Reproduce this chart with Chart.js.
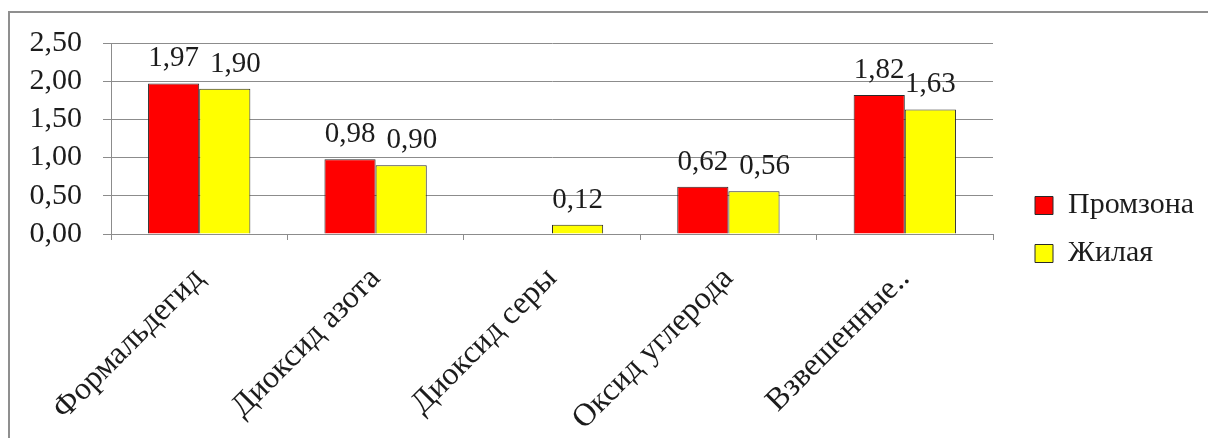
<!DOCTYPE html>
<html><head><meta charset="utf-8">
<script src="https://cdn.jsdelivr.net/npm/chart.js@4.4.1/dist/chart.umd.min.js"></script>
<style>html,body{margin:0;padding:0;background:#fff;overflow:hidden}canvas{display:block}</style>
</head><body>
<canvas id="c" width="1208" height="438"></canvas>
<script>
const categories = ['Формальдегид', 'Диоксид азота', 'Диоксид серы', 'Оксид углерода', 'Взвешенные..'];
const seriesNames = ['Промзона', 'Жилая'];
const promzona = [1.97, 0.98, null, 0.62, 1.82];
const zhilaya = [1.90, 0.90, 0.12, 0.56, 1.63];
const yTickValues = [0, 0.5, 1, 1.5, 2, 2.5];

const FONT = '"Liberation Serif", "DejaVu Serif", serif';
const TEXT = '#1c1c1c';
const GRID = '#8c8c8c';
const fmt = v => v.toFixed(2).replace('.', ',');

const decor = {
  id: 'decor',
  afterInit(chart) {
    const lg = chart.legend;
    const fit0 = lg.fit.bind(lg);
    lg.fit = function () { fit0(); this.width = 215; };
    const draw0 = lg.draw.bind(lg);
    lg.draw = function () {
      this.left += 24; this.top -= 11; this.bottom -= 11;
      draw0();
      this.left -= 24; this.top += 11; this.bottom += 11;
    };
  },
  beforeDraw(chart) {
    const ctx = chart.ctx;
    ctx.save();
    ctx.fillStyle = '#fff';
    ctx.fillRect(0, 0, chart.width, chart.height);
    ctx.strokeStyle = '#8f8f8f';
    ctx.lineWidth = 2;
    ctx.beginPath();
    ctx.moveTo(9, chart.height);
    ctx.lineTo(9, 12);
    ctx.lineTo(chart.width, 12);
    ctx.stroke();
    ctx.restore();
  },
  afterDatasetsDraw(chart) {
    const ctx = chart.ctx;
    ctx.save();
    ctx.font = '29px ' + FONT;
    ctx.fillStyle = TEXT;
    ctx.textAlign = 'center';
    ctx.textBaseline = 'alphabetic';
    const m0 = chart.getDatasetMeta(0), m1 = chart.getDatasetMeta(1);
    const d0 = chart.data.datasets[0].data, d1 = chart.data.datasets[1].data;
    for (let i = 0; i < chart.data.labels.length; i++) {
      let a = null, b = null;
      if (d0[i] !== null && d0[i] !== undefined) {
        const el = m0.data[i];
        a = { t: fmt(d0[i]), x: el.x, y: el.y - 17 };
      }
      if (d1[i] !== null && d1[i] !== undefined) {
        const el = m1.data[i];
        b = { t: fmt(d1[i]), x: el.x, y: el.y - 17 };
      }
      // push apart labels that would collide, like the spreadsheet does
      if (a && b && Math.abs(a.y - b.y) < 12) {
        const need = (ctx.measureText(a.t).width + ctx.measureText(b.t).width) / 2 + 11;
        const have = b.x - a.x;
        if (have < need) b.x += need - have;
      }
      [a, b].forEach(l => { if (l) ctx.fillText(l.t, l.x, l.y); });
    }
    ctx.restore();
  }
};

new Chart(document.getElementById('c'), {
  type: 'bar',
  data: {
    labels: categories,
    datasets: [
      { label: seriesNames[0], data: promzona, backgroundColor: '#ff0000', borderColor: '#2a2a2a', borderWidth: 1,
        categoryPercentage: 0.58, barPercentage: 1.0 },
      { label: seriesNames[1], data: zhilaya, backgroundColor: '#ffff00', borderColor: '#2a2a2a', borderWidth: 1,
        categoryPercentage: 0.58, barPercentage: 1.0 }
    ]
  },
  options: {
    responsive: false,
    animation: false,
    devicePixelRatio: 1,
    layout: { padding: { top: 43, bottom: 0, left: 0, right: 0 } },
    plugins: {
      tooltip: { enabled: false },
      legend: {
        position: 'right',
        labels: { boxWidth: 18, boxHeight: 18, padding: 18, color: TEXT, font: { family: FONT, size: 30 } }
      }
    },
    scales: {
      x: {
        grid: { offset: true, drawOnChartArea: false, drawTicks: true, tickLength: 6, color: GRID },
        border: { display: true, color: GRID },
        ticks: { minRotation: 45, maxRotation: 45, autoSkip: false, color: TEXT, padding: 20,
                 font: { family: FONT, size: 32 } },
        afterFit(s) { s.height = 204; }
      },
      y: {
        min: 0, max: 2.5,
        afterBuildTicks(s) { s.ticks = yTickValues.map(v => ({ value: v })); },
        ticks: { autoSkip: false, callback: v => fmt(v), color: TEXT, padding: 21, font: { family: FONT, size: 30 } },
        grid: { color: GRID, tickLength: 8 },
        border: { color: GRID },
        afterFit(s) { s.width = 111; }
      }
    }
  },
  plugins: [decor]
});
</script>
</body></html>
